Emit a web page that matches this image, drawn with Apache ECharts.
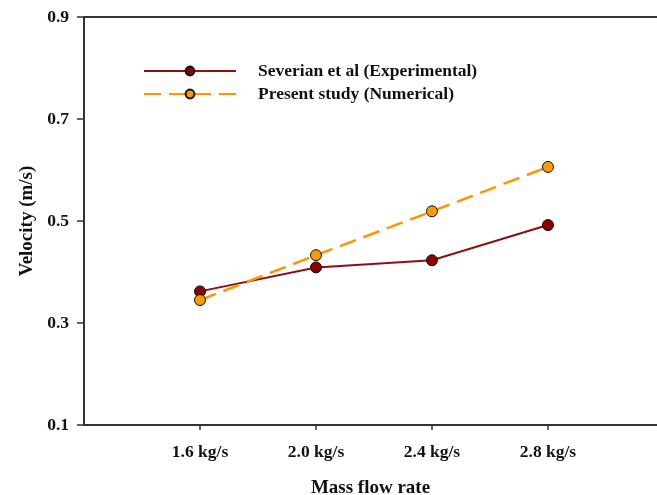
<!DOCTYPE html>
<html>
<head>
<meta charset="utf-8">
<script src="https://cdn.jsdelivr.net/npm/echarts@6/dist/echarts.min.js"></script>
<style>
html,body{margin:0;padding:0;background:#fff;}
#chart{width:657px;height:495px;}
</style>
</head>
<body>
<div id="chart"></div>
<script>
var categories = ['1.6 kg/s', '2.0 kg/s', '2.4 kg/s', '2.8 kg/s'];
var experimental = [0.362, 0.409, 0.423, 0.492];
var numerical = [0.345, 0.433, 0.519, 0.606];
var yTicks = [0.1, 0.3, 0.5, 0.7, 0.9];
var seriesNames = ['Severian et al (Experimental)', 'Present study (Numerical)'];

var FONT = '"Liberation Serif", "Times New Roman", serif';
function toPairs(arr){ return arr.map(function(v,i){ return [i+1, v]; }); }
var catPos = categories.map(function(c,i){ return i+1; });

var chart = echarts.init(document.getElementById('chart'));
chart.setOption({
  animation: false,
  backgroundColor: '#fff',
  grid: { left: 84, top: 17, right: 0, bottom: 70, containLabel: false, outerBoundsMode: 'none' },
  legend: {
    left: 143, top: 62, orient: 'vertical', padding: 0,
    itemWidth: 92, itemHeight: 11, itemGap: 5,
    textStyle: { fontFamily: FONT, fontWeight: 'bold', fontSize: 17.5, color: '#111', padding: [0,0,0,17] },
    data: seriesNames
  },
  xAxis: [{
    type: 'value', min: 0, max: 4.94, interval: 1,
    name: 'Mass flow rate', nameLocation: 'middle', nameGap: 54,
    nameTextStyle: { fontFamily: FONT, fontWeight: 'bold', fontSize: 19, color: '#111' },
    axisLine: { show: true, lineStyle: { color: '#333', width: 2 } },
    axisTick: { show: true, inside: false, length: 5, customValues: catPos, lineStyle: { color: '#333', width: 1.5 } },
    axisLabel: { customValues: catPos, margin: 18, fontFamily: FONT, fontWeight: 'bold', fontSize: 17.5, color: '#111',
      formatter: function(v){ return categories[Math.round(v)-1] || ''; } },
    splitLine: { show: false }
  }, {
    type: 'value', position: 'top', min: 0, max: 4.94,
    axisLine: { show: true, onZero: false, lineStyle: { color: '#333', width: 2 } },
    axisTick: { show: false }, axisLabel: { show: false }, splitLine: { show: false }
  }],
  yAxis: {
    type: 'value', min: yTicks[0], max: yTicks[yTicks.length-1], interval: 0.2,
    name: 'Velocity (m/s)', nameLocation: 'middle', nameGap: 47, nameRotate: 90,
    nameTextStyle: { fontFamily: FONT, fontWeight: 'bold', fontSize: 19, color: '#111' },
    axisLine: { show: true, lineStyle: { color: '#333', width: 2 } },
    axisTick: { show: true, length: 7, lineStyle: { color: '#333', width: 1.5 } },
    axisLabel: { margin: 15, fontFamily: FONT, fontWeight: 'bold', fontSize: 17.5, color: '#111',
      formatter: function(v){ return v.toFixed(1); } },
    splitLine: { show: false }
  },
  series: [{
    name: seriesNames[0], type: 'line', data: toPairs(experimental),
    symbol: 'circle', symbolSize: 11,
    lineStyle: { color: '#8b1010', width: 2 },
    itemStyle: { color: '#8b0000', borderColor: '#111', borderWidth: 1 }
  }, {
    name: seriesNames[1], type: 'line', data: toPairs(numerical),
    symbol: 'circle', symbolSize: 11,
    lineStyle: { color: '#ff9400', width: 2.5, type: [17, 8] },
    itemStyle: { color: '#ff9900', borderColor: '#111', borderWidth: 1 }
  }]
});
</script>
</body>
</html>
